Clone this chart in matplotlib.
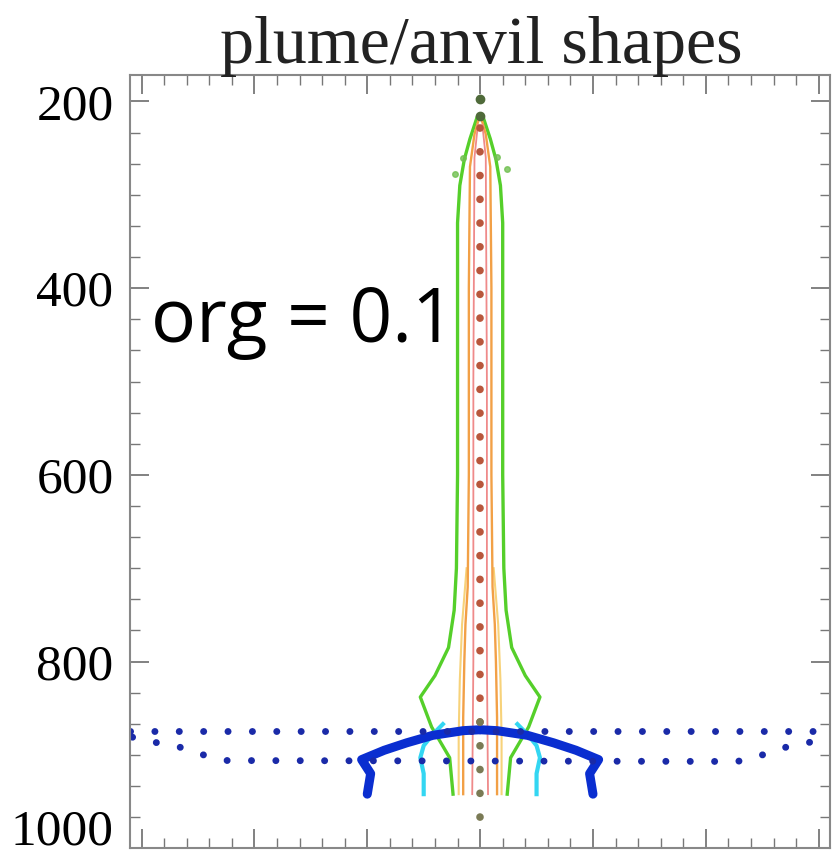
import matplotlib
matplotlib.use("Agg")
import matplotlib.pyplot as plt
from matplotlib.ticker import MultipleLocator
from matplotlib.transforms import offset_copy
import numpy as np

# pressure levels (hPa) and half-widths for each symmetric plume outline
green_p = [218, 240, 262, 290, 330, 450, 600, 700, 745, 785, 815, 838, 870, 903, 942]
green_x = [0.03, 0.09, 0.14, 0.18, 0.20, 0.20, 0.20, 0.21, 0.23, 0.28, 0.40, 0.53, 0.43, 0.27, 0.24]

orange_p = [218, 235, 270, 400, 600, 720, 760, 800, 860, 942]
orange_x = [0.01, 0.05, 0.09, 0.10, 0.10, 0.11, 0.13, 0.14, 0.15, 0.15]

yellow_p = [700, 760, 820, 880, 942]
yellow_x = [0.12, 0.16, 0.18, 0.19, 0.19]

pink_p = [225, 260, 500, 800, 942]
pink_x = [0.02, 0.05, 0.06, 0.06, 0.07]

cyan_p = [867, 878, 890, 903, 920, 942]
cyan_x = [0.33, 0.42, 0.50, 0.53, 0.50, 0.50]

blue_p = [873, 874, 879, 887, 895, 905, 920, 942]
blue_x = [0.0, 0.15, 0.42, 0.65, 0.85, 1.05, 0.97, 1.00]

# dotted boundary lines
dots_up_x = [-3.10, 3.10]
dots_up_p = [874, 874]
dots_lo_x = [-3.08, -2.86, -2.65, -2.45, -2.24, 2.28, 2.50, 2.70, 2.90, 3.12]
dots_lo_p = [881, 887, 892, 900, 906, 907, 900, 892, 887, 881]

# central column: extent of brown dots and olive dots
core_red_p = [228, 865]
core_olive_p = [865, 975]
core_top_p = [197, 216]

# top green dots (anvil fringe)
gdot_x = [-0.22, -0.15, 0.15, 0.24]
gdot_p = [278, 261, 259, 272]

fig = plt.figure(figsize=(8.35, 8.56), dpi=100)
ax = fig.add_axes([0.156, 0.009, 0.838, 0.903])


def sym(xs, ps, **kw):
    xs = np.array(xs)
    ax.plot(-xs, ps, **kw)
    ax.plot(xs, ps, **kw)


sym(green_x, green_p, color="#55cf2a", lw=2.4)
sym(yellow_x, yellow_p, color="#f7d27a", lw=1.5)
sym(orange_x, orange_p, color="#f2a046", lw=1.7)
sym(pink_x, pink_p, color="#ef8a8a", lw=1.3)
sym(cyan_x, cyan_p, color="#33d6f2", lw=3.0)
sym(blue_x, blue_p, color="#0a2ed0", lw=6.5, solid_capstyle="round")

dotted = dict(color="#1a2aa8", lw=5, linestyle=(0, (0.01, 3.5)), dash_capstyle="round")
ax.plot(dots_up_x, dots_up_p, **dotted)
ax.plot(dots_lo_x, dots_lo_p, **dotted)

# central column
core = dict(lw=5.5, linestyle=(0, (0.01, 3.1)), dash_capstyle="round")
ax.plot([0, 0], core_red_p, color="#b8573c", **core)
ax.plot([0, 0], core_olive_p, color="#7a7a55", **core)
ax.plot([0, 0], core_top_p, "o", color="#4f6a3a", ms=6)
ax.plot(gdot_x, gdot_p, "o", color="#70c050", ms=4, alpha=0.8)

ax.set_xlim(-3.1, 3.1)
ax.set_ylim(1000, 172)
ax.xaxis.set_major_locator(MultipleLocator(1))
ax.xaxis.set_minor_locator(MultipleLocator(0.2))
ax.yaxis.set_minor_locator(MultipleLocator(200 / 6))
ax.set_yticks([200, 400, 600, 800, 1000])
ax.tick_params(which="both", direction="in", top=True, right=True, colors="#777777",
               labelcolor="black")
ax.tick_params(which="major", length=14, width=1.3)
ax.tick_params(which="minor", length=7, width=1)
ax.tick_params(axis="x", labelbottom=False)
ax.tick_params(axis="y", labelsize=37, pad=12)
for s in ax.spines.values():
    s.set_color("#888888")
    s.set_linewidth(1.5)

fig.canvas.draw()
labels = ax.get_yticklabels()
for lab in labels:
    lab.set_family("Liberation Serif")
# bottom label sits on its tick so it stays inside the figure
last = labels[-1]
last.set_va("bottom")
last.set_transform(offset_copy(last.get_transform(), fig=fig, x=0, y=-5, units="points"))

fig.text(0.577, 0.946, "plume/anvil shapes", ha="center", va="center",
         family="Liberation Serif", fontsize=49, color="#222222")
ax.text(0.03, 0.655, "org = 0.1", transform=ax.transAxes, family="Open Sans",
        fontsize=54, va="baseline", ha="left")

fig.savefig("out.png", dpi=100)
